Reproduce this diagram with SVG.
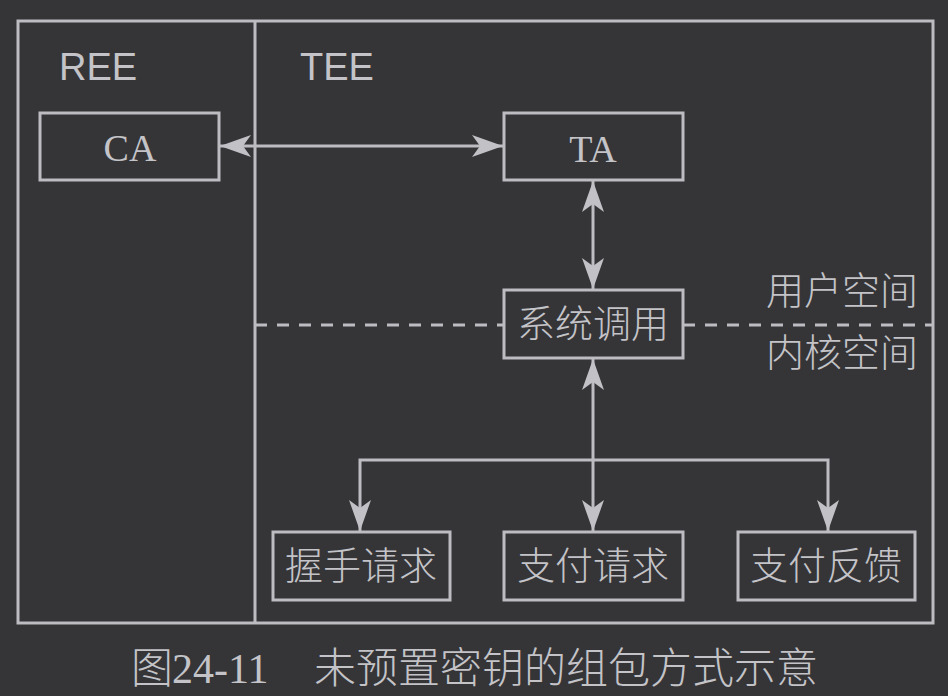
<svg xmlns="http://www.w3.org/2000/svg" width="948" height="696" viewBox="0 0 948 696">
<style>
.ln{fill:none;stroke:#bdbdc1;stroke-width:3}
.box{fill:none;stroke:#bdbdc1;stroke-width:3}
.sans{font-family:"Liberation Sans",Arial,sans-serif;font-size:38px;fill:#c4c4c8}
.serif{font-family:"Liberation Serif","Times New Roman",serif;font-size:38px;fill:#c4c4c8}
.cjk{font-family:"Noto Sans CJK SC","Liberation Sans",sans-serif;font-size:38px;font-weight:300;fill:#c4c4c8}
.cap{font-family:"Liberation Serif","Noto Sans CJK SC",serif;font-size:42px;font-weight:300;fill:#c4c4c8}
</style>
<defs>
<marker id="ah" markerUnits="userSpaceOnUse" viewBox="-32 -12 34 24" refX="0" refY="0" markerWidth="34" markerHeight="24" orient="auto-start-reverse">
<path d="M0,0 L-31,-11 L-23,0 L-31,11 Z" fill="#c2c2c6"/>
</marker>
</defs>
<rect width="948" height="696" fill="#353538"/>
<g id="frame">
<rect x="18" y="21" width="915" height="602" class="box"/>
<line x1="255" y1="21" x2="255" y2="623" class="ln"/>
<text x="59" y="80" class="sans">REE</text>
<text x="300" y="80" class="sans">TEE</text>
</g>
<g id="boundary">
<path d="M255,325 H504 M683,325 H933" class="ln" stroke-dasharray="12 10"/>
<text x="918" y="304" text-anchor="end" class="cjk">用户空间</text>
<text x="918" y="366" text-anchor="end" class="cjk">内核空间</text>
</g>
<g id="connectors">
<path d="M220,146 H503" class="ln" marker-start="url(#ah)" marker-end="url(#ah)"/>
<path d="M593,181 V289" class="ln" marker-start="url(#ah)" marker-end="url(#ah)"/>
<path d="M593,359 V531" class="ln" marker-start="url(#ah)" marker-end="url(#ah)"/>
<path d="M593,460 H360 V531" class="ln" marker-end="url(#ah)"/>
<path d="M593,460 H828 V531" class="ln" marker-end="url(#ah)"/>
</g>
<g id="ca">
<rect x="40" y="113" width="179" height="67" class="box"/>
<text x="130" y="161" text-anchor="middle" class="serif">CA</text>
</g>
<g id="ta">
<rect x="504" y="113" width="179" height="67" class="box"/>
<text x="593" y="162" text-anchor="middle" class="serif">TA</text>
</g>
<g id="syscall">
<rect x="504" y="290" width="179" height="68" class="box"/>
<text x="593" y="337" text-anchor="middle" class="cjk">系统调用</text>
</g>
<g id="handshake">
<rect x="273" y="532" width="177" height="68" class="box"/>
<text x="361" y="579" text-anchor="middle" class="cjk">握手请求</text>
</g>
<g id="payreq">
<rect x="504" y="532" width="179" height="68" class="box"/>
<text x="593" y="579" text-anchor="middle" class="cjk">支付请求</text>
</g>
<g id="payfb">
<rect x="738" y="532" width="177" height="68" class="box"/>
<text x="826" y="579" text-anchor="middle" class="cjk">支付反馈</text>
</g>
<g id="caption">
<text y="683" class="cap"><tspan x="131">图</tspan><tspan x="172">24-11</tspan><tspan x="314">未预置密钥的组包方式示意</tspan></text>
</g>
</svg>
